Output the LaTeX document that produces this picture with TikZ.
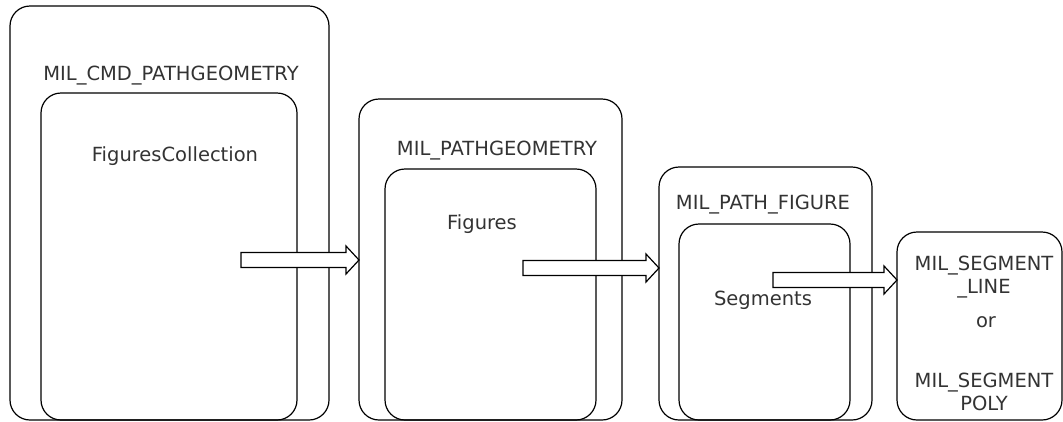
\documentclass[tikz,border=0pt]{standalone}
\usepackage{fontspec}
\setmainfont{DejaVu Sans}
\usetikzlibrary{positioning, calc}
\newcommand{\headlen}{13}
\newcommand{\fatarrow}[2]{% start coordinate, box it points at
  \coordinate (#1tip) at (#1 -| #2.west);
  \draw[fat] ($(#1)+(0,-7.5)$) -- ($(#1tip)+(-\headlen,-7.5)$) -- ($(#1tip)+(-\headlen,-14)$) -- (#1tip)
    -- ($(#1tip)+(-\headlen,14)$) -- ($(#1tip)+(-\headlen,7.5)$) -- ($(#1)+(0,7.5)$) -- cycle;
}
\tikzset{
  frame/.style={draw, line width=1.2pt, rounded corners=20pt, inner sep=0pt, outer sep=0pt, anchor=north west},
  lbl/.style={anchor=base, inner sep=0pt, text=black!80, font=\fontsize{19.5}{23}\selectfont},
  fat/.style={draw, line width=1.2pt, fill=white, line join=miter}
}

\begin{document}
\begin{tikzpicture}[x=1pt, y=-1pt]
    \useasboundingbox (0,0) rectangle (1063,421);
    % outer and inner boxes
    \node[frame, minimum width=319pt, minimum height=414pt] (cmd) at (10,6) {};
    \node[frame, minimum width=256pt, minimum height=327pt] (coll) at (41,93) {};
    \node[frame, minimum width=263pt, minimum height=321pt] (geom) at (359,99) {};
    \node[frame, minimum width=211pt, minimum height=251pt] (figs) at (385,169) {};
    \node[frame, minimum width=213pt, minimum height=253pt] (fig) at (659,167) {};
    \node[frame, minimum width=171pt, minimum height=196pt] (segs) at (679,224) {};
    \node[frame, minimum width=165pt, minimum height=188pt] (seg) at (897,232) {};
    % texts
    \node[lbl] (cmdname) at (171,80) {MIL\_CMD\_PATHGEOMETRY};
    \node[lbl] (collname) at (175,161) {FiguresCollection};
    \node[lbl] (geomname) at (497,155) {MIL\_PATHGEOMETRY};
    \node[lbl] (figsname) at (482,229) {Figures};
    \node[lbl] (figname) at (763,209) {MIL\_PATH\_FIGURE};
    \node[lbl] (segsname) at (763,305) {Segments};
    \node[lbl] (lineA) at (984,270) {MIL\_SEGMENT};
    \node[lbl] (lineB) at (984,293) {\_LINE};
    \node[lbl] (orname) at (986,327) {or};
    \node[lbl] (polyA) at (984,387) {MIL\_SEGMENT};
    \node[lbl] (polyB) at (984,410) {POLY};
    % arrows
    \coordinate (a1) at (241,260);
    \coordinate (a2) at (523,268);
    \coordinate (a3) at (773,280);
    \fatarrow{a1}{geom}
    \fatarrow{a2}{fig}
    \fatarrow{a3}{seg}
\end{tikzpicture}
\end{document}
